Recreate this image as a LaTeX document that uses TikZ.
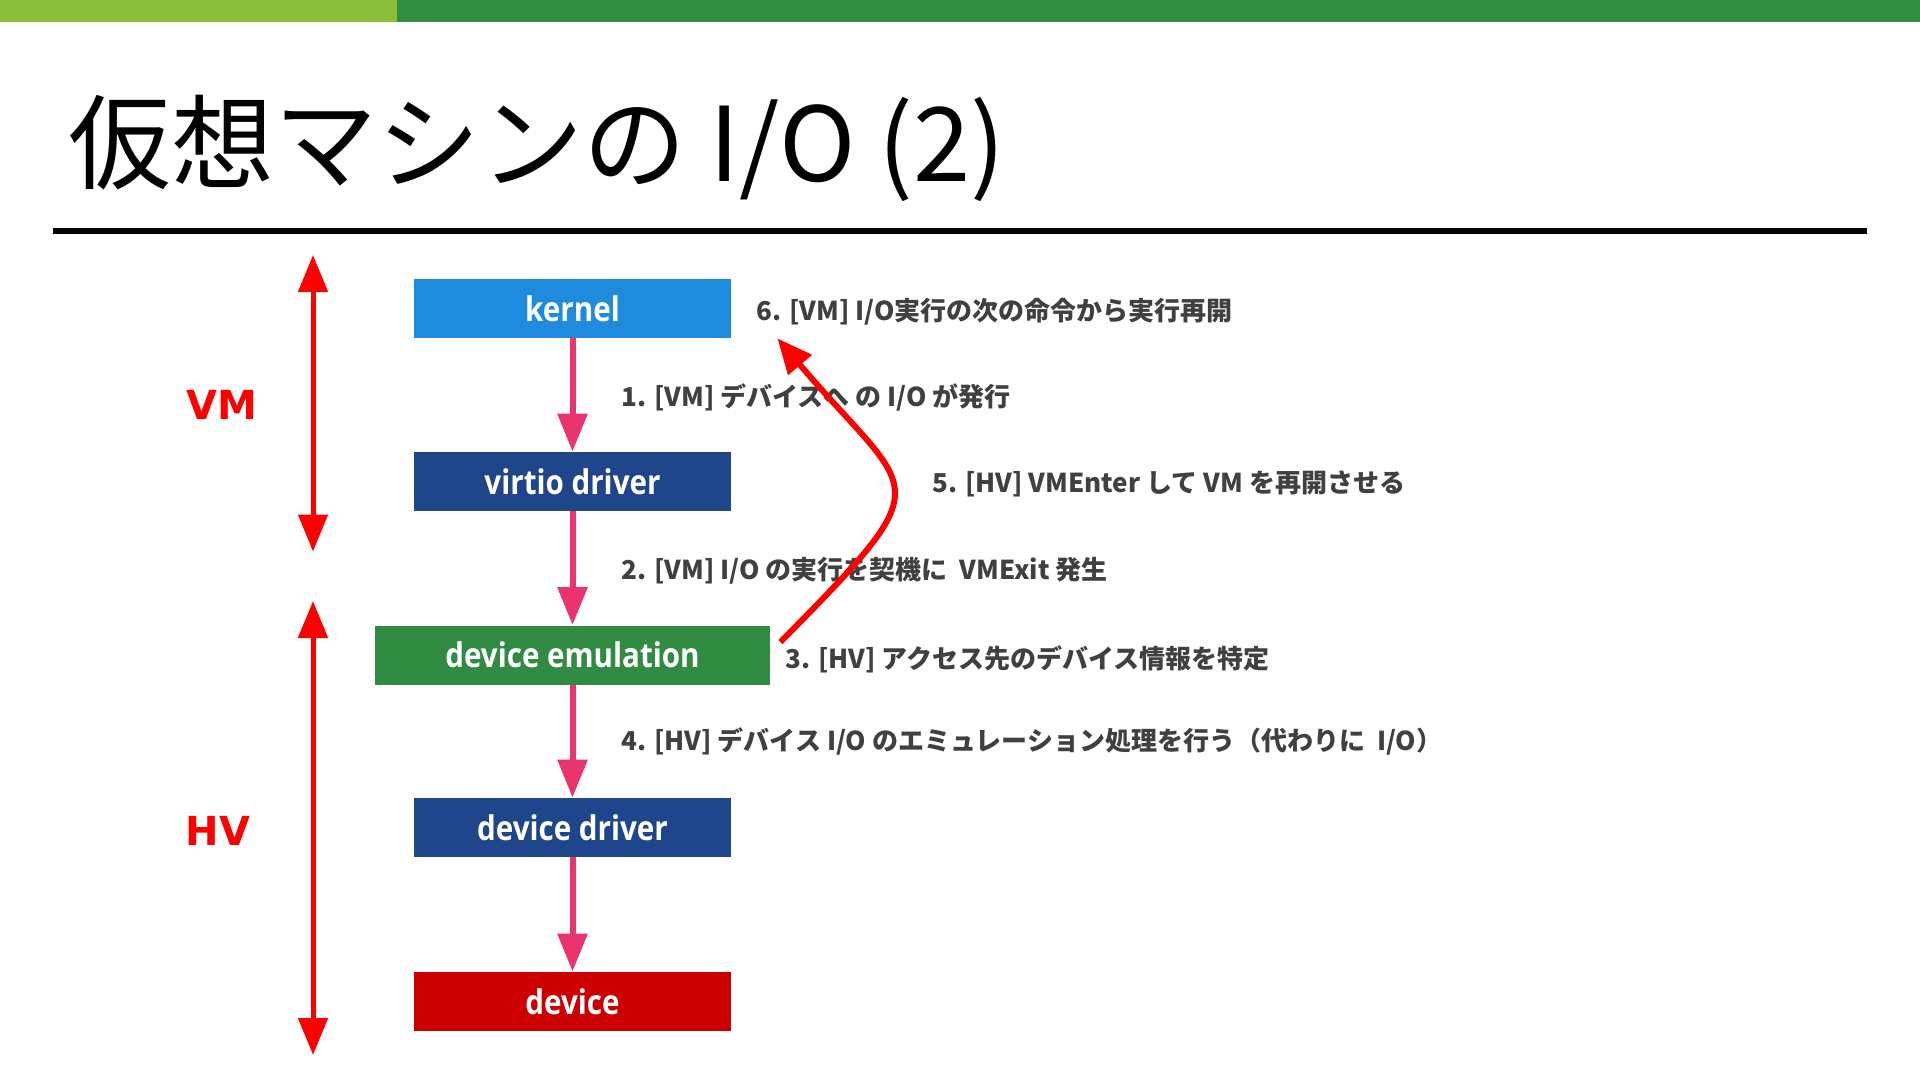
\documentclass[tikz,border=0pt]{standalone}
\usepackage{fontspec}
\setmainfont{Open Sans}
\newfontfamily\jpfont{Noto Sans CJK JP}
\newfontfamily\boxfont{Open Sans}
\newfontfamily\lblfont{DejaVu Sans}
\usetikzlibrary{arrows.meta,calc}
\definecolor{barlight}{RGB}{139,191,58}
\definecolor{bardark}{RGB}{50,140,66}
\definecolor{kblue}{RGB}{30,139,222}
\definecolor{dblue}{RGB}{31,69,138}
\definecolor{egreen}{RGB}{49,139,67}
\definecolor{dred}{RGB}{204,0,0}
\definecolor{pinkarr}{RGB}{233,52,110}
\definecolor{stepgray}{RGB}{64,64,64}
\newcommand\boxtext[1]{\scalebox{0.87}[1]{#1}}
\tikzset{
  layerbox/.style={draw=none, inner sep=0pt, minimum height=29.5pt, text=white,
    font=\boxfont\bfseries\fontsize{17}{20}\selectfont},
  flow/.style={draw=pinkarr, line width=3pt, -{Triangle[length=19pt,width=14.5pt]}},
  span/.style={draw=red, line width=2.5pt,
    {Triangle[length=18.5pt,width=14.5pt]}-{Triangle[length=18.5pt,width=14.5pt]}},
  back/.style={draw=red, line width=3pt, -{Triangle[length=17.5pt,width=15pt]}},
  steptext/.style={anchor=west, inner sep=0pt, text=stepgray,
    font=\jpfont\bfseries\fontsize{13}{15}\selectfont},
  sidelabel/.style={inner sep=0pt, text=red, font=\lblfont\bfseries\fontsize{20}{24}\selectfont},
}
\begin{document}
\begin{tikzpicture}[x=0.5pt,y=-0.5pt]
\path[use as bounding box] (0,0) rectangle (1920,1081);
% header
\fill[barlight] (0,0) rectangle (397,22);
\fill[bardark] (397,0) rectangle (1920,22);
\node[anchor=base west, inner sep=0pt, font=\jpfont\fontsize{51.5}{60}\selectfont] (title) at (68,181) {仮想マシンの I/O (2)};
\draw[line width=2.75pt] (53,231) -- (1867,231);
% layers
\node[layerbox, fill=kblue, minimum width=158.5pt] (kernel) at (572.5,308.5) {\boxtext{kernel}};
\node[layerbox, fill=dblue, minimum width=158.5pt] (virtio) at (572.5,481.5) {\boxtext{virtio driver}};
\node[layerbox, fill=egreen, minimum width=197.5pt] (emu) at (572.5,655) {\boxtext{device emulation}};
\node[layerbox, fill=dblue, minimum width=158.5pt] (devdrv) at (572.5,827.5) {\boxtext{device driver}};
\node[layerbox, fill=dred, minimum width=158.5pt] (device) at (572.5,1001.5) {\boxtext{device}};
% flow arrows
\draw[flow] (kernel) -- (virtio);
\draw[flow] (virtio) -- (emu);
\draw[flow] (emu) -- (devdrv);
\draw[flow] (devdrv) -- (device);
% side spans
\coordinate (vmtop) at (313,255);
\coordinate (vmbot) at (313,551.5);
\coordinate (hvtop) at (313,601);
\coordinate (hvbot) at (313,1055);
\draw[span] (vmtop) -- (vmbot);
\draw[span] (hvtop) -- (hvbot);
\node[sidelabel] (vmlabel) at (222,405) {VM};
\node[sidelabel] (hvlabel) at (218,831) {HV};
% step texts
\node[steptext] (s6) at (756,312) {6. [VM] I/O実行の次の命令から実行再開};
\node[steptext] (s1) at (621,397) {1. [VM] デバイスへ の I/O が発行};
\node[steptext] (s5) at (932,484) {5. [HV] VMEnter して VM を再開させる};
\node[steptext] (s2) at (621,571) {2. [VM] I/O の実行を契機に\ \ VMExit 発生};
\node[steptext] (s3) at (785,659) {3. [HV] アクセス先のデバイス情報を特定};
\node[steptext] (s4) at (621,741) {4. [HV] デバイス I/O のエミュレーション処理を行う（代わりに\ \ I/O）};
% return arrow
\coordinate (c5a) at ($(emu.north east)+(10,17)$);
\coordinate (c5b) at ($(kernel.south east)+(46,0)$);
\draw[back] (c5a) .. controls (945,475) and (915,500) .. (c5b);
\end{tikzpicture}
\end{document}
